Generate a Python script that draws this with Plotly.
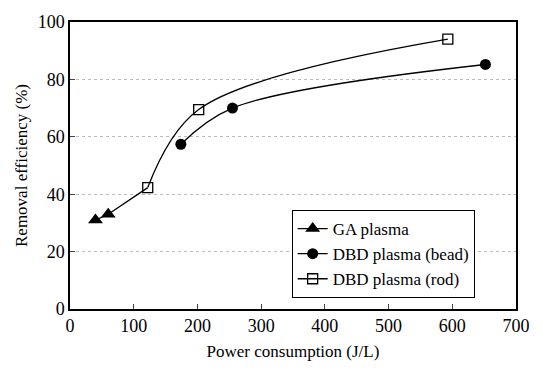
import plotly.graph_objects as go

ga_x = [40, 60]
ga_y = [31, 33]
bead_x = [174, 255, 652]
bead_y = [57.4, 70, 85.2]
rod_x = [122, 202, 593]
rod_y = [42.3, 69.5, 94]
x_ticks = [0, 100, 200, 300, 400, 500, 600, 700]
y_ticks = [0, 20, 40, 60, 80, 100]

font = "'Liberation Serif', 'DejaVu Serif', serif"
fig = go.Figure()
# connector from GA plasma to rod series
fig.add_trace(go.Scatter(x=[ga_x[-1], rod_x[0]], y=[ga_y[-1], rod_y[0]], mode="lines",
                         line=dict(color="black", width=1.3), showlegend=False, hoverinfo="skip"))
fig.add_trace(go.Scatter(x=ga_x, y=ga_y, mode="lines+markers", name="GA plasma",
                         line=dict(color="black", width=1.3),
                         marker=dict(symbol="triangle-up", size=13, color="black")))
fig.add_trace(go.Scatter(x=bead_x, y=bead_y, mode="lines+markers", name="DBD plasma (bead)",
                         line=dict(color="black", width=1.3, shape="spline", smoothing=1.0),
                         marker=dict(symbol="circle", size=11, color="black")))
fig.add_trace(go.Scatter(x=rod_x, y=rod_y, mode="lines+markers", name="DBD plasma (rod)",
                         line=dict(color="black", width=1.3, shape="spline", smoothing=1.0),
                         marker=dict(symbol="square-open", size=10, color="black", line=dict(width=1.3))))

fig.update_layout(
    width=542, height=370,
    margin=dict(l=70, r=25, t=14, b=58),
    paper_bgcolor="white", plot_bgcolor="white",
    font=dict(family=font, color="black", size=17),
    legend=dict(x=0.497, y=0.345, xanchor="left", yanchor="top",
                bordercolor="black", borderwidth=1, bgcolor="white",
                font=dict(family=font, size=17), tracegroupgap=0,
                itemwidth=30),
    xaxis=dict(range=[0, 700], tickvals=x_ticks, ticks="inside", ticklen=5,
               showline=True, linecolor="black", linewidth=1.5, mirror=True,
               showgrid=False, zeroline=False,
               tickfont=dict(family=font, size=18),
               title=dict(text="Power consumption (J/L)", font=dict(family=font, size=17), standoff=10)),
    yaxis=dict(range=[0, 100], tickvals=y_ticks, ticks="inside", ticklen=5,
               showline=True, linecolor="black", linewidth=1.5, mirror=True,
               showgrid=True, gridcolor="#bbbbbb", griddash="dot", gridwidth=1,
               zeroline=False,
               tickfont=dict(family=font, size=18),
               title=dict(text="Removal efficiency (%)", font=dict(family=font, size=17), standoff=6)),
)
fig.write_html("out.html")
